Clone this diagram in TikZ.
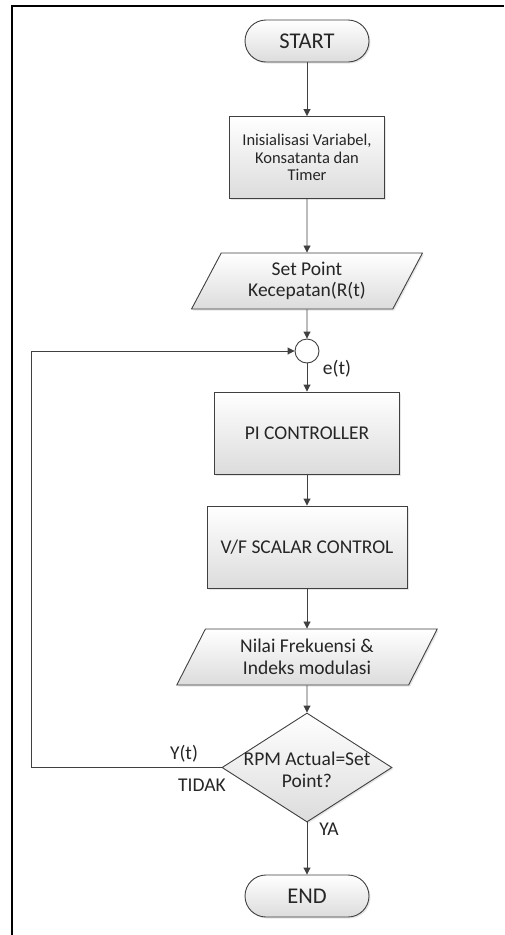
\documentclass[tikz,border=0pt]{standalone}
\usepackage{fontspec}
\setmainfont{Carlito}
\usetikzlibrary{arrows.meta,shapes.geometric,shadows}
\definecolor{linegray}{HTML}{404040}
\definecolor{textgray}{HTML}{262626}
\definecolor{fillgray}{HTML}{DCDCDC}
\begin{document}
\begin{tikzpicture}[x=1pt,y=-1pt,
    base/.style={draw=linegray, line width=0.9pt, top color=white, bottom color=fillgray,
        text=textgray, align=center, inner sep=0pt,
        drop shadow={opacity=0.2, shadow xshift=1.5pt, shadow yshift=-1.5pt},
        font=\fontsize{19.5}{21.7}\selectfont},
    terminal/.style={base, rounded corners=21pt, minimum width=124pt, minimum height=42pt,
        font=\fontsize{22.5}{24}\selectfont},
    process/.style={base, minimum height=82pt},
    io/.style={base, trapezium, trapezium left angle=62, trapezium right angle=118,
        trapezium stretches=true, minimum height=56pt},
    decision/.style={base, diamond, minimum width=170pt, minimum height=109pt},
    junction/.style={draw=linegray, line width=0.9pt, fill=white, circle, minimum size=24pt, inner sep=0pt},
    flow/.style={draw=linegray, line width=0.9pt, -{Triangle[length=7pt,width=7pt]}},
    tag/.style={text=textgray, font=\fontsize{19.5}{21.7}\selectfont, inner sep=0pt}]
    \useasboundingbox (0,0) rectangle (504,935);
    \draw [line width=2pt] (11.5,935) |- (504,5.5);

    \node (start) [terminal] at (307,41) {START};
    \node (init) [process, minimum width=155pt, font=\fontsize{16.5}{17.5}\selectfont] at (307,157.5)
        {Inisialisasi Variabel,\\Konsatanta dan\\Timer};
    \node (setpoint) [io, minimum width=231pt] at (307,281) {Set Point\\Kecepatan(R(t)};
    \node (sum) [junction] at (307,351) {};
    \node (pi) [process, minimum width=185pt] at (307,433) {PI CONTROLLER};
    \node (vf) [process, minimum width=200pt] at (307,547) {V/F SCALAR CONTROL};
    \node (nilai) [io, minimum width=261pt] at (307,657) {Nilai Frekuensi \&\\Indeks modulasi};
    \node (check) [decision] at (307,767.5) {};
    \node (checktext) [tag, align=center] at (307,770) {RPM Actual=Set\\Point?};
    \node (end) [terminal] at (307,896) {END};
    \coordinate (loop) at (31,767.5);

    \draw [flow] (start) -- (init);
    \draw [flow] (init) -- (setpoint);
    \draw [flow] (setpoint) -- (sum);
    \draw [flow] (sum) -- (pi);
    \draw [flow] (pi) -- (vf);
    \draw [flow] (vf) -- (nilai);
    \draw [flow] (nilai) -- (check);
    \draw [flow] (check) -- (end);
    \draw [flow] (check.west) -- (loop) |- (sum.west);

    \node (et) [tag] at (337,369) {e(t)};
    \node (yt) [tag] at (184,754) {Y(t)};
    \node (tidak) [tag] at (202,785) {TIDAK};
    \node (ya) [tag] at (329,829) {YA};
\end{tikzpicture}
\end{document}
